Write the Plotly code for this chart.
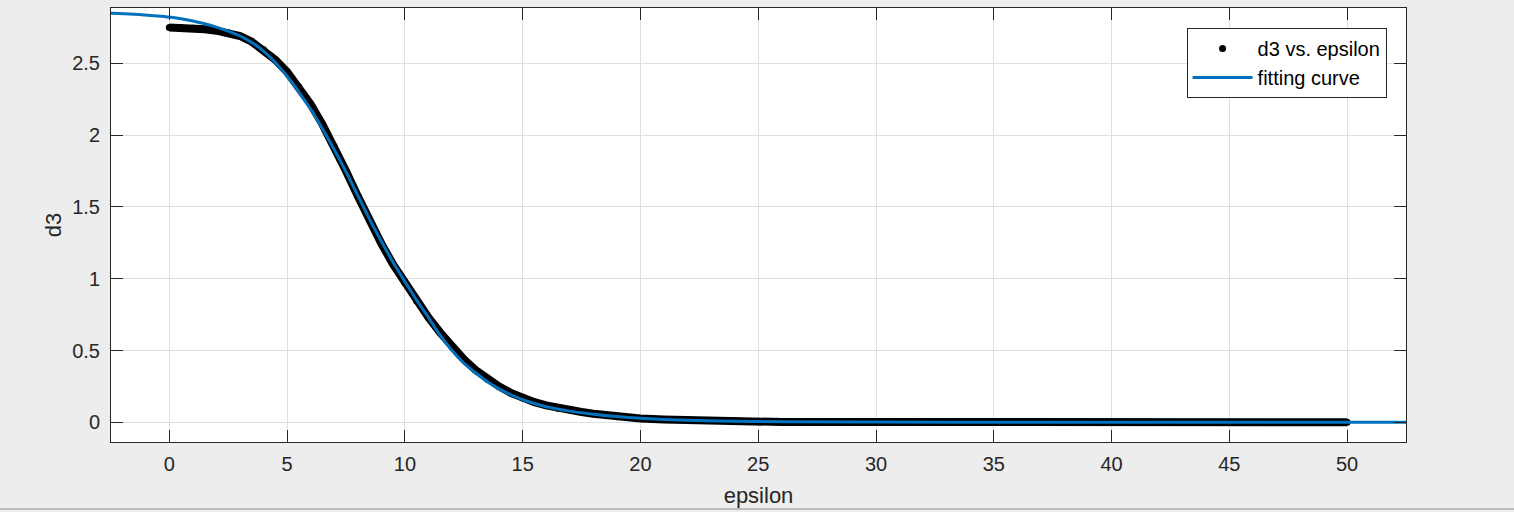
import plotly.graph_objects as go

# measured data (d3 vs. epsilon)
eps_data = [0, 0.5, 1, 1.5, 2, 2.5, 3, 3.5, 4, 4.5, 5, 5.5, 6, 6.5, 7, 7.5, 8, 8.5,
            9, 9.5, 10, 10.5, 11, 11.5, 12, 12.5, 13, 13.5, 14, 14.5, 15, 15.5,
            16, 16.5, 17, 17.5, 18, 19, 20, 21, 22, 23, 24, 25, 25.8, 26, 30,
            35, 40, 45, 50]
d3_data = [2.750, 2.748, 2.744, 2.737, 2.727, 2.712, 2.690, 2.650, 2.595, 2.525,
           2.440, 2.335, 2.215, 2.075, 1.920, 1.750, 1.575, 1.405, 1.245, 1.100,
           0.970, 0.845, 0.730, 0.625, 0.525, 0.440, 0.365, 0.300, 0.250, 0.205,
           0.170, 0.140, 0.118, 0.098, 0.085, 0.072, 0.060, 0.038, 0.026, 0.020,
           0.016, 0.012, 0.010, 0.008, 0.007, 0.002, 0.002, 0.001, 0.001, 0.001, 0.001]

# fitted curve
eps_fit = [-2.5, -1.5, -0.5, 0, 0.5, 1, 1.5, 2, 2.5, 3, 3.5, 4, 4.5, 5, 5.5, 6,
           6.5, 7, 7.5, 8, 8.5, 9, 9.5, 10, 10.5, 11, 11.5, 12, 12.5, 13, 13.5,
           14, 14.5, 15, 15.5, 16, 17, 18, 19, 20, 21, 22, 24, 26, 30, 35, 40,
           45, 50, 52.5]
d3_fit = [2.848, 2.842, 2.830, 2.822, 2.810, 2.795, 2.775, 2.752, 2.724, 2.690,
          2.645, 2.585, 2.505, 2.410, 2.300, 2.180, 2.045, 1.900, 1.745, 1.580,
          1.415, 1.260, 1.115, 0.980, 0.850, 0.730, 0.605, 0.500, 0.413, 0.345,
          0.283, 0.233, 0.192, 0.158, 0.131, 0.109, 0.078, 0.056, 0.040, 0.028,
          0.020, 0.014, 0.007, 0.004, 0.002, 0.001, 0.001, 0.001, 0.001, 0.001]

x_ticks = [0, 5, 10, 15, 20, 25, 30, 35, 40, 45, 50]
y_ticks = [0, 0.5, 1, 1.5, 2, 2.5]
y_tick_labels = ["0", "0.5", "1", "1.5", "2", "2.5"]

FONT = "Liberation Sans, Arial, Helvetica, sans-serif"
TXT = "#262626"

fig = go.Figure()
# dense data band (drawn as thick line under the dots)
fig.add_trace(go.Scatter(x=eps_data, y=d3_data, mode="lines",
                         line=dict(color="black", width=8),
                         showlegend=False, hoverinfo="skip"))
fig.add_trace(go.Scatter(x=eps_data, y=d3_data, mode="markers",
                         marker=dict(color="black", size=7),
                         name="d3 vs. epsilon"))
fig.add_trace(go.Scatter(x=eps_fit, y=d3_fit, mode="lines",
                         line=dict(color="#0072BD", width=3, shape="spline"),
                         name="fitting curve"))

axis_common = dict(showline=True, linecolor=TXT, linewidth=1, mirror="allticks",
                   ticks="inside", ticklen=12, tickcolor=TXT, tickwidth=1,
                   showgrid=True, gridcolor="#dfdfdf", gridwidth=1,
                   zeroline=False, tickfont=dict(family=FONT, size=20, color=TXT))

fig.update_xaxes(range=[-2.476, 52.5], tickvals=x_ticks, ticklabelstandoff=4,
                 title=dict(text="epsilon", font=dict(family=FONT, size=22, color=TXT),
                            standoff=13),
                 **axis_common)
fig.update_yaxes(range=[-0.137, 2.885], tickvals=y_ticks, ticktext=y_tick_labels,
                 ticklabelstandoff=6,
                 title=dict(text="d3", font=dict(family=FONT, size=22, color=TXT),
                            standoff=4),
                 **axis_common)

fig.update_layout(
    width=1514, height=512,
    margin=dict(l=111, r=108, t=8, b=70),
    paper_bgcolor="#ededed", plot_bgcolor="white",
    legend=dict(x=0.985, y=0.954, xanchor="right", yanchor="top",
                bgcolor="white", bordercolor=TXT, borderwidth=1,
                font=dict(family=FONT, size=20, color="black"),
                itemwidth=60, tracegroupgap=0),
    shapes=[dict(type="line", xref="paper", yref="paper",
                 x0=-111 / 1295, x1=(1514 - 111) / 1295,
                 y0=(442 - 509) / 434, y1=(442 - 509) / 434,
                 line=dict(color="#bdbdbd", width=2))],
)

fig.write_html("out.html", config={"displayModeBar": False},
               post_script="document.body.style.margin='0';document.body.style.overflow='hidden';")
